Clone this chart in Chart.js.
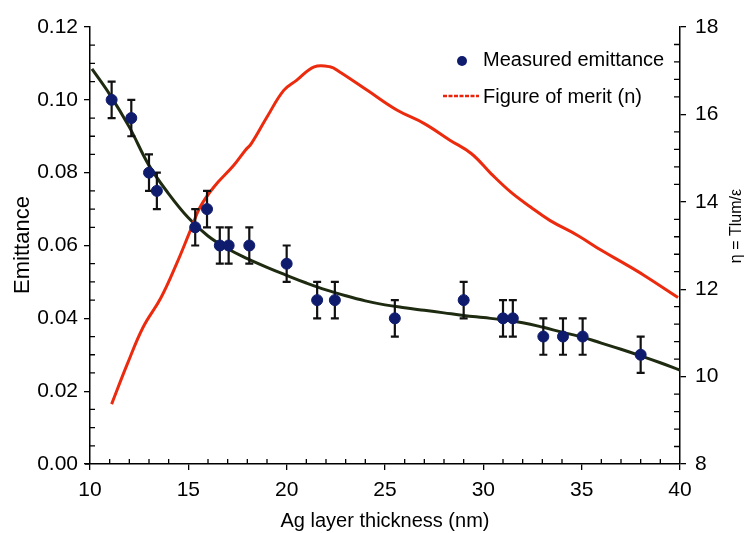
<!DOCTYPE html>
<html>
<head>
<meta charset="utf-8">
<script src="https://cdn.jsdelivr.net/npm/chart.js@4.4.1/dist/chart.umd.min.js"></script>
<style>
  html, body { margin: 0; padding: 0; background: #fff; }
  #wrap { width: 747px; height: 533px; }
</style>
</head>
<body>
<div id="wrap"><canvas id="emitChart" width="747" height="533"></canvas></div>
<script>
// measured emittance vs Ag thickness (nm), error bars are +/- errEmit
const thickness = [11.1, 12.1, 13.0, 13.4, 15.35, 15.95, 16.6, 17.05, 18.1, 20.0, 21.55, 22.45, 25.5, 29.0, 31.0, 31.5, 33.05, 34.05, 35.05, 38.0];
const emittance = [0.100, 0.095, 0.080, 0.075, 0.065, 0.070, 0.060, 0.060, 0.060, 0.055, 0.045, 0.045, 0.040, 0.045, 0.040, 0.040, 0.035, 0.035, 0.035, 0.030];
const errEmit = 0.005;

// fitted emittance curve
const fitX = [10.1, 11, 12, 13, 14, 15, 16, 17, 18, 19, 20, 21, 22, 23, 24, 25, 26, 27, 28, 29, 30, 31, 32, 33, 34, 35, 36, 37, 38, 39, 40];
const fitY = [0.1085, 0.1015, 0.0925, 0.0820, 0.0742, 0.0676, 0.0626, 0.0591, 0.0564, 0.0540, 0.0518, 0.0497, 0.0478, 0.0462, 0.0448, 0.0437, 0.0429, 0.0422, 0.0415, 0.0408, 0.0402, 0.0396, 0.0388, 0.0376, 0.0362, 0.0349, 0.0332, 0.0315, 0.0297, 0.0278, 0.0258];

// figure of merit (right axis)
const meritX = [11.1, 11.9, 12.7, 13.6, 14.4, 15.1, 15.6, 16.3, 17.3, 17.9, 18.2, 19.0, 19.85, 20.5, 21.4, 22.2, 22.7, 24.1, 25.6, 27.0, 28.3, 29.4, 30.4, 31.4, 32.4, 33.4, 34.8, 36.0, 37.2, 38.2, 39.9];
const meritY = [9.37, 10.29, 11.13, 11.80, 12.58, 13.34, 13.88, 14.34, 14.83, 15.18, 15.33, 15.94, 16.55, 16.78, 17.09, 17.09, 16.97, 16.55, 16.10, 15.79, 15.41, 15.10, 14.64, 14.22, 13.88, 13.57, 13.23, 12.89, 12.58, 12.31, 11.81];

const xTicks = [10, 15, 20, 25, 30, 35, 40];
const yTicks = [0, 0.02, 0.04, 0.06, 0.08, 0.10, 0.12];
const y2Ticks = [8, 10, 12, 14, 16, 18];

const FONT = 'Liberation Sans, Arial, Helvetica, sans-serif';
const INK = '#000';

const pts = (xs, ys) => xs.map((x, i) => ({ x: x, y: ys[i] }));

const errorBars = {
  id: 'errorBars',
  beforeDatasetDraw(chart, args) {
    if (args.index !== 0) return;
    const { ctx, scales: { x, y } } = chart;
    ctx.save();
    ctx.strokeStyle = '#111';
    ctx.lineWidth = 2.2;
    thickness.forEach((t, i) => {
      const px = x.getPixelForValue(t);
      const top = y.getPixelForValue(emittance[i] + errEmit);
      const bot = y.getPixelForValue(emittance[i] - errEmit);
      ctx.beginPath();
      ctx.moveTo(px, top); ctx.lineTo(px, bot);
      ctx.moveTo(px - 4, top); ctx.lineTo(px + 4, top);
      ctx.moveTo(px - 4, bot); ctx.lineTo(px + 4, bot);
      ctx.stroke();
    });
    ctx.restore();
  }
};

const extras = {
  id: 'extras',
  afterDraw(chart) {
    const { ctx, chartArea: a, scales: { x, y, y2 } } = chart;
    ctx.save();
    ctx.strokeStyle = INK;
    ctx.lineWidth = 1.3;
    ctx.beginPath();
    // minor ticks, pointing into the plot
    for (let v = 11; v < 40; v++) {
      if (v % 5 === 0) continue;
      const px = x.getPixelForValue(v);
      ctx.moveTo(px, a.bottom); ctx.lineTo(px, a.bottom - 5);
    }
    for (let k = 1; k < 24; k++) {
      if (k % 4 === 0) continue;
      const py = y.getPixelForValue(k * 0.005);
      ctx.moveTo(a.left, py); ctx.lineTo(a.left + 5, py);
    }
    for (let k = 1; k < 25; k++) {
      if (k % 5 === 0) continue;
      const py = y2.getPixelForValue(8 + k * 0.4);
      ctx.moveTo(a.right, py); ctx.lineTo(a.right - 6, py);
    }
    // small overhang of the x axis past the left axis
    ctx.moveTo(a.left - 5, a.bottom); ctx.lineTo(a.left, a.bottom);
    ctx.stroke();

    // axis titles
    ctx.fillStyle = INK;
    ctx.textAlign = 'center';
    ctx.textBaseline = 'middle';
    ctx.font = '20px ' + FONT;
    ctx.fillText('Ag layer thickness (nm)', 385, 521);

    ctx.save();
    ctx.translate(23, 245);
    ctx.rotate(-Math.PI / 2);
    ctx.font = '22px ' + FONT;
    ctx.fillText('Emittance', 0, 0);
    ctx.restore();

    ctx.save();
    ctx.translate(737, 226);
    ctx.rotate(-Math.PI / 2);
    ctx.font = '16px ' + FONT;
    ctx.fillText('\u03B7 = Tlum/\u03B5', 0, 0);
    ctx.restore();

    // legend
    ctx.textAlign = 'left';
    ctx.font = '20px ' + FONT;
    ctx.fillStyle = '#0f1c6e';
    ctx.beginPath();
    ctx.arc(462, 61, 5, 0, Math.PI * 2);
    ctx.fill();
    ctx.fillStyle = INK;
    ctx.fillText('Measured emittance', 483, 60);

    ctx.strokeStyle = '#e8250c';
    ctx.lineWidth = 2.5;
    ctx.setLineDash([4, 1.5]);
    ctx.beginPath();
    ctx.moveTo(443, 96); ctx.lineTo(479, 96);
    ctx.stroke();
    ctx.setLineDash([]);
    ctx.fillText('Figure of merit (n)', 483, 97);
    ctx.restore();
  }
};

const tickFont = { family: FONT, size: 21 };

new Chart(document.getElementById('emitChart'), {
  type: 'scatter',
  data: {
    datasets: [
      {
        label: 'Measured emittance',
        data: pts(thickness, emittance),
        yAxisID: 'y',
        backgroundColor: '#0f1c6e',
        borderColor: '#0f1c6e',
        pointRadius: 5.5,
        order: 0
      },
      {
        label: 'Figure of merit (n)',
        data: pts(meritX, meritY),
        yAxisID: 'y2',
        showLine: true,
        borderColor: '#ec2a0e',
        borderWidth: 3,
        pointRadius: 0,
        tension: 0.4,
        order: 1
      },
      {
        label: 'Fit',
        data: pts(fitX, fitY),
        yAxisID: 'y',
        showLine: true,
        borderColor: '#1e2b10',
        borderWidth: 3,
        pointRadius: 0,
        tension: 0.4,
        order: 2
      }
    ]
  },
  options: {
    responsive: false,
    animation: false,
    layout: { padding: { top: 27, left: 0, right: 0, bottom: 0 } },
    plugins: { legend: { display: false }, tooltip: { enabled: false } },
    scales: {
      x: {
        type: 'linear',
        min: 10, max: 40,
        afterBuildTicks: s => { s.ticks = xTicks.map(v => ({ value: v })); },
        afterFit: s => { s.height = 69; },
        ticks: { font: tickFont, color: INK, padding: 8, maxRotation: 0 },
        grid: { drawOnChartArea: false, tickLength: 6, color: INK, lineWidth: 1.3 },
        border: { color: INK, width: 1.5 }
      },
      y: {
        type: 'linear',
        position: 'left',
        min: 0, max: 0.12,
        afterBuildTicks: s => { s.ticks = yTicks.map(v => ({ value: v })); },
        afterFit: s => { s.width = 90; },
        ticks: { font: tickFont, color: INK, padding: 6, callback: v => v.toFixed(2) },
        grid: { drawOnChartArea: false, tickLength: 6, color: INK, lineWidth: 1.3 },
        border: { color: INK, width: 1.5 }
      },
      y2: {
        type: 'linear',
        position: 'right',
        min: 8, max: 18,
        afterBuildTicks: s => { s.ticks = y2Ticks.map(v => ({ value: v })); },
        afterFit: s => { s.width = 67; },
        ticks: { font: tickFont, color: INK, padding: 9 },
        grid: { drawOnChartArea: false, tickLength: 6, color: INK, lineWidth: 1.3 },
        border: { color: INK, width: 1.5 }
      }
    }
  },
  plugins: [errorBars, extras]
});
</script>
</body>
</html>
